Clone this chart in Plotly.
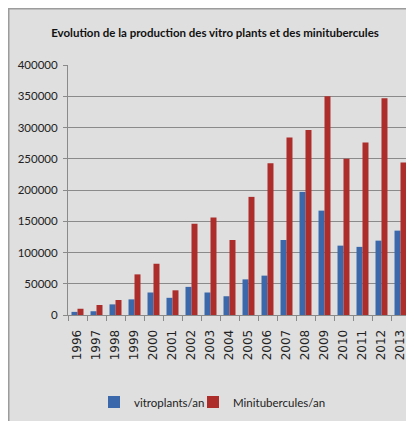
import plotly.graph_objects as go

years = [str(y) for y in range(1996, 2014)]
vitroplants = [5000, 6000, 17000, 25000, 36000, 27500, 45000, 36000, 30000,
               57000, 63000, 120000, 197000, 167000, 111000, 109000, 119000, 135000]
minitubercules = [10000, 16000, 24000, 65000, 82000, 39500, 146000, 156000, 120000,
                  189000, 243000, 284000, 296000, 350000, 250000, 276000, 347000, 244000]
yticks = [0, 50000, 100000, 150000, 200000, 250000, 300000, 350000, 400000]

# the page body adds an 8px margin, so the figure is drawn from (8, 8)
W, H = 406, 413
L, R, T, B = 60, 4, 57, 106
pw, ph = W - L - R, H - T - B

font_main = "Lato, Roboto, sans-serif"

fig = go.Figure()
fig.add_trace(go.Bar(x=years, y=vitroplants, name="vitroplants/an", legend="legend",
                     marker=dict(color="#3a68aa", line=dict(width=0))))
fig.add_trace(go.Bar(x=years, y=minitubercules, name="Minitubercules/an", legend="legend2",
                     marker=dict(color="#ad2d2b", line=dict(width=0))))

# chart frame border along the left and top edges
fig.add_shape(type="rect", xref="paper", yref="paper",
              x0=(-L + 0.5) / pw, x1=(W + 20 - L) / pw,
              y0=-(B + 20) / ph, y1=1 + (T - 0.5) / ph,
              fillcolor="rgba(0,0,0,0)", line=dict(color="#9c9c9c", width=2), layer="below")

leg_common = dict(orientation="h", xref="container", yref="container",
                  y=1 - 394 / H, yanchor="middle", xanchor="left", itemwidth=30,
                  font=dict(family=font_main, size=11.5, color="#222222"),
                  bgcolor="rgba(0,0,0,0)")

fig.update_layout(
    width=W, height=H,
    margin=dict(l=L, r=R, t=T, b=B),
    paper_bgcolor="#dfdfdf", plot_bgcolor="rgba(0,0,0,0)",
    barmode="group", bargap=0.37, bargroupgap=0,
    title=dict(text="<b>Evolution de la production des vitro plants et des minitubercules</b>",
               x=207 / W, xanchor="center", y=1 - 25 / H, yanchor="middle",
               font=dict(family=font_main, size=11.5, color="#111111")),
    font=dict(family=font_main, color="#222222"),
    legend=dict(x=86 / W, **leg_common),
    legend2=dict(x=185 / W, **leg_common),
    showlegend=True,
)
fig.update_yaxes(range=[0, 400000], tickvals=yticks, ticktext=[str(v) for v in yticks],
                 showgrid=True, gridcolor="#8a8a8a", gridwidth=1,
                 showline=True, linecolor="#8a8a8a", linewidth=1,
                 ticks="outside", ticklen=4, tickcolor="#8a8a8a",
                 ticklabelstandoff=3,
                 tickfont=dict(size=11.5, color="#222222"), zeroline=False)
fig.update_xaxes(type="category", tickangle=-90, tickson="boundaries",
                 ticks="outside", ticklen=5, tickcolor="#8a8a8a",
                 showline=True, linecolor="#8a8a8a", linewidth=1,
                 ticklabelstandoff=9,
                 tickfont=dict(family="DejaVu Sans, sans-serif", size=12, color="#222222"))

fig.write_html("out.html")
